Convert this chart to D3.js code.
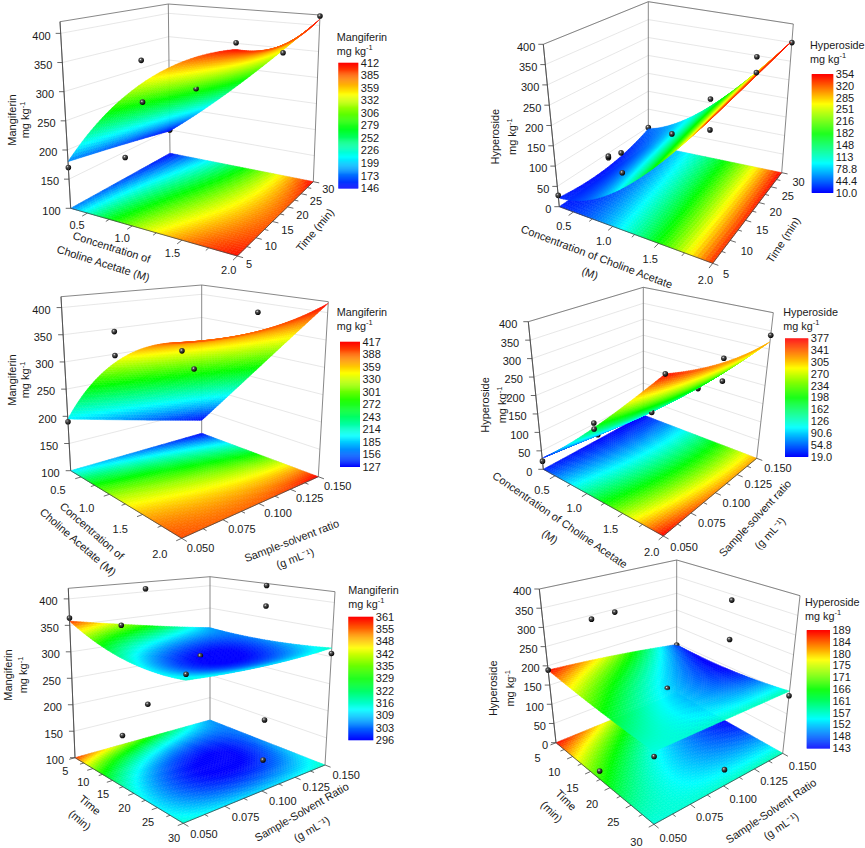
<!DOCTYPE html>
<html lang="en">
<head>
<meta charset="UTF-8">
<title>Response surfaces: Mangiferin and Hyperoside</title>
<script src="https://d3js.org/d3.v7.min.js"></script>
<style>
  body { margin: 0; background: #fff; }
  text { font-family: Arial, "Liberation Sans", sans-serif; fill: #1a1a1a; }
</style>
</head>
<body>
<script>
// ---- tick labels ----
var concTicks = [0.5, 1.0, 1.5, 2.0];
var timeTicks = [5, 10, 15, 20, 25, 30];
var ratioTicks = [0.050, 0.075, 0.100, 0.125, 0.150];
var mangZTicks = [100, 150, 200, 250, 300, 350, 400];
var hypZTicks = [0, 50, 100, 150, 200, 250, 300, 350, 400];

// ---- colour bar labels (top to bottom) ----
var legendA = ["412", "385", "359", "332", "306", "279", "252", "226", "199", "173", "146"];
var legendB = ["354", "320", "285", "251", "216", "182", "148", "113", "78.8", "44.4", "10.0"];
var legendC = ["417", "388", "359", "330", "301", "272", "243", "214", "185", "156", "127"];
var legendD = ["377", "341", "305", "270", "234", "198", "162", "126", "90.6", "54.8", "19.0"];
var legendE = ["361", "355", "348", "342", "335", "329", "322", "316", "309", "303", "296"];
var legendF = ["189", "184", "180", "175", "171", "166", "161", "157", "152", "148", "143"];

// ---- fitted surface read at low / centre / high level of both factors ----
// rows: y factor low, mid, high ; columns: x factor low, mid, high
var surfA = [[180, 335, 408], [165, 295, 388], [148, 265, 412]];   // conc x time
var surfB = [[22, 105, 338], [15, 125, 342], [45, 140, 354]];      // conc x time
var surfC = [[195, 330, 395], [160, 300, 390], [128, 265, 417]];   // conc x ratio
var surfD = [[30, 180, 377], [20, 145, 330], [19, 140, 320]];      // conc x ratio
var surfE = [[358, 318, 315], [330, 296, 310], [306, 305, 316]];   // time x ratio
var surfF = [[189, 168, 156], [172, 153, 157], [146, 143, 158]];   // time x ratio

// ---- experimental points [x, y, response] ----
var dotsA = [[0.3, 5, 170], [0.3, 17.5, 139], [1.15, 5, 305], [1.15, 5, 372], [0.3, 30, 150],
             [1.15, 17.5, 292], [2.0, 5, 418], [2.0, 17.5, 375], [2.0, 30, 418]];
var dotsB = [[0.3, 5, 28], [0.3, 17.5, 42], [0.3, 17.5, 38], [1.15, 5, 189], [1.15, 5, 141],
             [0.3, 30, 49], [1.15, 17.5, 143], [1.15, 30, 160], [2.0, 5, 315], [2.0, 17.5, 390],
             [2.0, 17.5, 350], [2.0, 30, 350]];
var dotsC = [[0.3, 0.05, 190], [1.15, 0.05, 382], [1.15, 0.05, 342], [2.0, 0.05, 383],
             [1.15, 0.10, 292], [1.15, 0.15, 380]];
var dotsD = [[0.3, 0.05, 22], [1.15, 0.05, 192], [1.15, 0.05, 177], [0.3, 0.10, 14],
             [1.15, 0.10, 140], [2.0, 0.05, 377], [1.15, 0.15, 136], [2.0, 0.10, 341],
             [2.0, 0.10, 283], [2.0, 0.15, 338]];
var dotsE = [[5, 0.05, 364], [17.5, 0.05, 374], [17.5, 0.05, 187], [5, 0.10, 406], [5, 0.10, 168],
             [17.5, 0.10, 297], [30, 0.05, 324], [17.5, 0.15, 416], [17.5, 0.15, 374],
             [30, 0.10, 219], [30, 0.10, 152], [30, 0.15, 306]];
var dotsF = [[5, 0.05, 189], [17.5, 0.05, 380], [5, 0.10, 292], [5, 0.15, 145], [17.5, 0.10, 153],
             [17.5, 0.15, 334], [17.5, 0.15, 225], [30, 0.15, 146], [30, 0.05, 145],
             [17.5, 0.05, 20], [30, 0.10, 38]];

var rainbow = ["#0000ff", "#00ffff", "#00ff00", "#ffff00", "#ff0000"];

// ---- panel layout (screen frame of each 3D box, label offsets) ----
var panels = [
  { frame: {L: [70.7, 208.3], B: [237.3, 256], R: [313.3, 181.7], K: [170, 153.3],
            TL: [60, 21.7], TK: [168.3, 4], TR: [320, 15]},
    xDomain: [0.3, 2.0], yDomain: [5, 30], zDomain: [100, 420],
    xTicks: concTicks, xFmt: ".1f", yTicks: timeTicks, yFmt: "d", zTicks: mangZTicks,
    xl: [12, 6], yl: [9, 6], zl: 10,
    grid: surfA, dots: dotsA, legend: legendA, name: "Mangiferin",
    leg: {x: 336.7, y: 40.5, bx: 338.3, by: 62.7, bw: 20, bh: 125.6},
    xTitle: [["Concentration of", 111.7, 247.3, 17.5], ["Choline Acetate (M)", 103.3, 263.3, 17.5]],
    yTitle: [["Time (min)", 315, 230, -50]],
    zTitle: [11.7, 25, 120] },
  { frame: {L: [559.3, 206.7], B: [712.7, 263.3], R: [781.7, 172.7], K: [648.3, 145],
            TL: [543.3, 44.3], TK: [648.3, 1.7], TR: [793.3, 24]},
    xDomain: [0.3, 2.0], yDomain: [5, 30], zDomain: [0, 400],
    xTicks: concTicks, xFmt: ".1f", yTicks: timeTicks, yFmt: "d", zTicks: hypZTicks,
    xl: [12, 7], yl: [11, 7], zl: 8,
    grid: surfB, dots: dotsB, legend: legendB, name: "Hyperoside",
    leg: {x: 810, y: 49, bx: 811.7, by: 74, bw: 21.6, bh: 118.7},
    xTitle: [["Concentration of Choline Acetate", 596.7, 256.7, 20.6], ["(M)", 590, 273.3, 20.6]],
    yTitle: [["Time (min)", 783.3, 240, -57]],
    zTitle: [495, 511.7, 136.7] },
  { frame: {L: [70.7, 470.7], B: [181.7, 538.3], R: [318.3, 476.7], K: [201.7, 433.3],
            TL: [61, 296.7], TK: [201.7, 285], TR: [328.3, 301.7]},
    xDomain: [0.3, 2.0], yDomain: [0.05, 0.15], zDomain: [100, 420],
    xTicks: concTicks, xFmt: ".1f", yTicks: ratioTicks, yFmt: ".3f", zTicks: mangZTicks,
    xl: [24, 6], yl: [6, 7], zl: 11,
    grid: surfC, dots: dotsC, legend: legendC, name: "Mangiferin",
    leg: {x: 336.7, y: 315.5, bx: 340, by: 341.7, bw: 20, bh: 125},
    xTitle: [["Concentration of", 92, 531, 41], ["Choline Acetate (M)", 78, 542, 41]],
    yTitle: [["Sample-solvent ratio", 291.7, 540.7, -21], ["(g mL\u207B\u00B9)", 295, 558.3, -21]],
    zTitle: [11.7, 25, 380] },
  { frame: {L: [543.3, 469.3], B: [663.3, 536], R: [756.7, 458.3], K: [643.3, 415],
            TL: [528.3, 321.7], TK: [643.3, 287.3], TR: [773.3, 312.7]},
    xDomain: [0.3, 2.0], yDomain: [0.05, 0.15], zDomain: [0, 400],
    xTicks: concTicks, xFmt: ".1f", yTicks: ratioTicks, yFmt: ".3f", zTicks: hypZTicks,
    xl: [15, 7], yl: [8, 7], zl: 11,
    grid: surfD, dots: dotsD, legend: legendD, name: "Hyperoside",
    leg: {x: 783.3, y: 316, bx: 785, by: 338.3, bw: 23.3, bh: 118.4},
    xTitle: [["Concentration of Choline Acetate", 560, 520, 34.6], ["(M)", 550, 536.7, 34.6]],
    yTitle: [["Sample-solvent ratio", 755, 518.3, -47], ["(g mL\u207B\u00B9)", 770, 533.3, -47]],
    zTitle: [485, 501.7, 405] },
  { frame: {L: [75, 757.7], B: [183.3, 823.3], R: [325, 765], K: [210, 720],
            TL: [68.3, 588.3], TK: [210, 576.7], TR: [335, 591.7]},
    xDomain: [5, 30], yDomain: [0.05, 0.15], zDomain: [100, 420],
    xTicks: timeTicks, xFmt: "d", yTicks: ratioTicks, yFmt: ".3f", zTicks: mangZTicks,
    xl: [10, 11], yl: [8, 7], zl: 11,
    grid: surfE, dots: dotsE, legend: legendE, name: "Mangiferin",
    leg: {x: 348.3, y: 594, bx: 348.3, by: 616.7, bw: 25, bh: 123.3},
    xTitle: [["Time", 90, 805, 40], ["(min)", 80, 820, 40]],
    yTitle: [["Sample-Solvent Ratio", 301.7, 812, -30], ["(g mL\u207B\u00B9)", 311.7, 829, -30]],
    zTitle: [8.3, 23.3, 675] },
  { frame: {L: [556, 742.7], B: [654, 824.3], R: [782.7, 753.3], K: [676.7, 693.3],
            TL: [539.3, 589], TK: [676.7, 560], TR: [800, 595.7]},
    xDomain: [5, 30], yDomain: [0.05, 0.15], zDomain: [0, 400],
    xTicks: timeTicks, xFmt: "d", yTicks: ratioTicks, yFmt: ".3f", zTicks: hypZTicks,
    xl: [20, 8], yl: [7, 9], zl: 8,
    grid: surfF, dots: dotsF, legend: legendF, name: "Hyperoside",
    leg: {x: 805, y: 605.5, bx: 806.7, by: 630, bw: 23.3, bh: 118.3},
    xTitle: [["Time", 566, 800, 45], ["(min)", 551.7, 811.7, 45]],
    yTitle: [["Sample-Solvent Ratio", 771, 811, -34], ["(g mL\u207B\u00B9)", 781, 826, -34]],
    zTitle: [493.3, 510, 688.3] }
];

var w = 865, h = 848;
var svg = d3.select("body").append("svg").attr("width", w).attr("height", h);

var ball = svg.append("defs").append("radialGradient").attr("id", "ball")
    .attr("cx", "38%").attr("cy", "35%").attr("r", "65%");
ball.append("stop").attr("offset", "0%").attr("stop-color", "#f0f0f0");
ball.append("stop").attr("offset", "30%").attr("stop-color", "#555");
ball.append("stop").attr("offset", "100%").attr("stop-color", "#000");

function solve3(m, r) {
  function det(a) {
    return a[0][0] * (a[1][1] * a[2][2] - a[1][2] * a[2][1])
         - a[0][1] * (a[1][0] * a[2][2] - a[1][2] * a[2][0])
         + a[0][2] * (a[1][0] * a[2][1] - a[1][1] * a[2][0]);
  }
  var d = det(m), out = [];
  for (var k = 0; k < 3; k++) {
    var c = m.map(function(row, i) { return row.map(function(v, j) { return j === k ? r[i] : v; }); });
    out.push(det(c) / d);
  }
  return out;
}

// floor: perspective map of the unit square onto the drawn floor
// height: vertical edges, inverse height blended across the floor (nearer = taller)
function makeProj(f) {
  var x0 = f.L[0], y0 = f.L[1], x1 = f.B[0], y1 = f.B[1], x2 = f.R[0], y2 = f.R[1], x3 = f.K[0], y3 = f.K[1];
  var sx = x0 - x1 + x2 - x3, sy = y0 - y1 + y2 - y3;
  var dx1 = x1 - x2, dx2 = x3 - x2, dy1 = y1 - y2, dy2 = y3 - y2;
  var den = dx1 * dy2 - dx2 * dy1;
  var g = (sx * dy2 - dx2 * sy) / den, hh = (dx1 * sy - sx * dy1) / den;
  var a = x1 - x0 + g * x1, b = x3 - x0 + hh * x3, c = x0;
  var d = y1 - y0 + g * y1, e = y3 - y0 + hh * y3, ff = y0;

  // camera depth term, only used to order the drawing
  var M = [[0, 0, 0], [0, 0, 0], [0, 0, 0]], r = [0, 0, 0];
  [[0, 0, f.TL], [0, 1, f.TK], [1, 1, f.TR]].forEach(function(t) {
    var u = t[0], v = t[1], X = t[2][0], Y = t[2][1], D0 = g * u + hh * v + 1;
    [[1, 0, -X, X * D0 - (a * u + b * v + c)], [0, 1, -Y, Y * D0 - (d * u + e * v + ff)]].forEach(function(q) {
      for (var i = 0; i < 3; i++) {
        for (var j = 0; j < 3; j++) M[i][j] += q[i] * q[j];
        r[i] += q[i] * q[3];
      }
    });
  });
  var C = solve3(M, r)[2];

  function edge(top, base) {
    var hgt = base[1] - top[1];
    return {inv: 1 / hgt, slope: (top[0] - base[0]) / hgt};
  }
  var eL = edge(f.TL, f.L), eK = edge(f.TK, f.K), eR = edge(f.TR, f.R);
  var eB = {inv: eL.inv + eR.inv - eK.inv, slope: eL.slope + eR.slope - eK.slope};
  return function(u, v, z) {
    var D = g * u + hh * v + 1;
    var k0 = (1 - u) * (1 - v), k1 = u * (1 - v), k2 = u * v, k3 = (1 - u) * v;
    var hgt = 1 / (eL.inv * k0 + eB.inv * k1 + eR.inv * k2 + eK.inv * k3);
    var sl = eL.slope * k0 + eB.slope * k1 + eR.slope * k2 + eK.slope * k3;
    return [(a * u + b * v + c) / D + z * hgt * sl, (d * u + e * v + ff) / D - z * hgt, D + C * z];
  };
}

// quadratic through low / centre / high
function lag(t) { return [2 * (t - 0.5) * (t - 1), -4 * t * (t - 1), 2 * t * (t - 0.5)]; }
function surfAt(grid, u, v) {
  var a = lag(u), b = lag(v), s = 0;
  for (var j = 0; j < 3; j++) for (var i = 0; i < 3; i++) s += grid[j][i] * a[i] * b[j];
  return s;
}

function pathOf(pts, close) {
  return "M" + pts.map(function(q) { return q[0].toFixed(2) + "," + q[1].toFixed(2); }).join("L") + (close ? "Z" : "");
}
function unit(p, q) {
  var dx = q[0] - p[0], dy = q[1] - p[1], n = Math.sqrt(dx * dx + dy * dy);
  return [dx / n, dy / n];
}
function minors(ticks, dom) {
  var step = ticks[1] - ticks[0], out = [];
  for (var t = ticks[0] - step / 2; t <= dom[1] + 1e-9; t += step) if (t >= dom[0] - 1e-9) out.push(t);
  return out;
}

function drawPanel(p) {
  var P = makeProj(p.frame);
  var xs = d3.scaleLinear().domain(p.xDomain).range([0, 1]);
  var ys = d3.scaleLinear().domain(p.yDomain).range([0, 1]);
  var zs = d3.scaleLinear().domain(p.zDomain).range([0, 1]);
  var lo = +p.legend[p.legend.length - 1], hi = +p.legend[0];
  var color = d3.scaleLinear()
      .domain([0, 0.25, 0.5, 0.75, 1].map(function(t) { return lo + t * (hi - lo); }))
      .range(rainbow).clamp(true);
  var g = svg.append("g");

  // back walls with grid lines
  p.zTicks.forEach(function(t) {
    var z = zs(t);
    g.append("path").attr("d", pathOf([P(0, 0, z), P(0, 1, z), P(1, 1, z)]))
      .attr("fill", "none").attr("stroke", "#dcdcdc").attr("stroke-width", 0.7);
  });
  [[P(0, 0, 0), P(0, 0, 1)], [P(0, 1, 0), P(0, 1, 1)], [P(1, 1, 0), P(1, 1, 1)],
   [P(0, 0, 1), P(0, 1, 1), P(1, 1, 1)]].forEach(function(seg) {
    g.append("path").attr("d", pathOf(seg)).attr("fill", "none")
      .attr("stroke", "#6a6a6a").attr("stroke-width", 0.8);
  });

  // surface nodes
  var N = 48, nodes = [];
  for (var j = 0; j <= N; j++) {
    nodes.push([]);
    for (var i = 0; i <= N; i++) nodes[j].push(surfAt(p.grid, i / N, j / N));
  }

  // projected contour map on the floor
  var floorCells = [];
  for (j = 0; j < N; j++) for (i = 0; i < N; i++) {
    var zc = (nodes[j][i] + nodes[j][i + 1] + nodes[j + 1][i] + nodes[j + 1][i + 1]) / 4;
    floorCells.push({d: pathOf([P(i / N, j / N, 0), P((i + 1) / N, j / N, 0),
                                P((i + 1) / N, (j + 1) / N, 0), P(i / N, (j + 1) / N, 0)], true),
                     c: color(zc)});
  }
  g.append("g").selectAll("path").data(floorCells).enter().append("path")
    .attr("d", function(d) { return d.d; })
    .attr("fill", function(d) { return d.c; })
    .attr("stroke", function(d) { return d.c; }).attr("stroke-width", 0.5);

  // front floor axes
  g.append("path").attr("d", pathOf([P(0, 0, 0), P(1, 0, 0), P(1, 1, 0)]))
    .attr("fill", "none").attr("stroke", "#444").attr("stroke-width", 0.8);

  var xf = d3.format(p.xFmt), yf = d3.format(p.yFmt);
  minors(p.xTicks, p.xDomain).concat(p.xTicks).forEach(function(t) {
    var major = p.xTicks.indexOf(t) >= 0, u = xs(t);
    var a = P(u, 0, 0), dir = unit(a, P(u, -0.05, 0)), len = major ? 6 : 4;
    g.append("line").attr("x1", a[0]).attr("y1", a[1])
      .attr("x2", a[0] + dir[0] * len).attr("y2", a[1] + dir[1] * len)
      .attr("stroke", "#444").attr("stroke-width", 0.8);
    if (major) g.append("text").attr("x", a[0] + dir[0] * p.xl[0]).attr("y", a[1] + dir[1] * p.xl[0] + p.xl[1])
      .attr("text-anchor", "middle").attr("dy", "0.35em").attr("font-size", 11).text(xf(t));
  });
  minors(p.yTicks, p.yDomain).concat(p.yTicks).forEach(function(t) {
    var major = p.yTicks.indexOf(t) >= 0, v = ys(t);
    var a = P(1, v, 0), dir = unit(a, P(1.05, v, 0)), len = major ? 6 : 4;
    g.append("line").attr("x1", a[0]).attr("y1", a[1])
      .attr("x2", a[0] + dir[0] * len).attr("y2", a[1] + dir[1] * len)
      .attr("stroke", "#444").attr("stroke-width", 0.8);
    if (major) g.append("text").attr("x", a[0] + dir[0] * p.yl[0]).attr("y", a[1] + dir[1] * p.yl[0] + p.yl[1])
      .attr("text-anchor", "start").attr("dy", "0.35em").attr("font-size", 11).text(yf(t));
  });

  // surface and points, far to near
  var items = [];
  for (j = 0; j < N; j++) for (i = 0; i < N; i++) {
    var c4 = [[i, j], [i + 1, j], [i + 1, j + 1], [i, j + 1]].map(function(q) {
      return P(q[0] / N, q[1] / N, zs(nodes[q[1]][q[0]]));
    });
    var zm = (nodes[j][i] + nodes[j][i + 1] + nodes[j + 1][i] + nodes[j + 1][i + 1]) / 4;
    items.push({depth: d3.mean(c4, function(q) { return q[2]; }), d: pathOf(c4, true), c: color(zm), dot: false});
  }
  p.dots.forEach(function(pt) {
    var q = P(xs(pt[0]), ys(pt[1]), zs(pt[2])), r = 2.8;
    items.push({depth: q[2] - 0.004, dot: true,
      d: "M" + (q[0] - r) + "," + q[1] + "a" + r + "," + r + " 0 1,0 " + 2 * r + ",0a" + r + "," + r + " 0 1,0 " + (-2 * r) + ",0"});
  });
  items.sort(function(a, b) { return b.depth - a.depth; });
  g.append("g").selectAll("path").data(items).enter().append("path")
    .attr("d", function(d) { return d.d; })
    .attr("fill", function(d) { return d.dot ? "url(#ball)" : d.c; })
    .attr("stroke", function(d) { return d.dot ? "none" : d.c; })
    .attr("stroke-width", 0.5);

  // vertical axis
  g.append("path").attr("d", pathOf([P(0, 0, 0), P(0, 0, 1)])).attr("fill", "none")
    .attr("stroke", "#444").attr("stroke-width", 0.8);
  p.zTicks.forEach(function(t) {
    var a = P(0, 0, zs(t));
    g.append("line").attr("x1", a[0] - 5).attr("y1", a[1]).attr("x2", a[0]).attr("y2", a[1])
      .attr("stroke", "#444").attr("stroke-width", 0.8);
    g.append("text").attr("x", a[0] - p.zl).attr("y", a[1] + 2.5).attr("dy", "0.35em")
      .attr("text-anchor", "end").attr("font-size", 11).text(t);
  });

  // axis titles
  p.xTitle.concat(p.yTitle).forEach(function(t) {
    g.append("text").attr("transform", "translate(" + t[1] + "," + t[2] + ") rotate(" + t[3] + ")")
      .attr("text-anchor", "middle").attr("dy", "0.35em").attr("font-size", 11).text(t[0]);
  });
  var zt = g.append("g").attr("font-size", 11);
  zt.append("text").attr("transform", "translate(" + p.zTitle[0] + "," + p.zTitle[2] + ") rotate(-90)")
    .attr("text-anchor", "middle").attr("dy", "0.35em").text(p.name);
  var unitT = zt.append("text").attr("transform", "translate(" + p.zTitle[1] + "," + p.zTitle[2] + ") rotate(-90)")
    .attr("text-anchor", "middle").attr("dy", "0.35em");
  unitT.append("tspan").text("mg kg");
  unitT.append("tspan").attr("dy", "-4").attr("font-size", 7.5).text("-1");

  // colour legend
  var L = p.leg;
  g.append("text").attr("x", L.x).attr("y", L.y).attr("font-size", 10.8).text(p.name);
  var lu = g.append("text").attr("x", L.x).attr("y", L.y + 14).attr("font-size", 10.8);
  lu.append("tspan").text("mg kg");
  lu.append("tspan").attr("dy", "-5").attr("font-size", 7.5).text("-1");
  var steps = d3.range(120);
  var by = d3.scaleLinear().domain([0, steps.length]).range([L.by + L.bh, L.by]);
  g.append("g").selectAll("rect").data(steps).enter().append("rect")
    .attr("x", L.bx).attr("width", L.bw)
    .attr("y", function(k) { return by(k + 1); })
    .attr("height", by(0) - by(1) + 0.3)
    .attr("fill", function(k) { return color(lo + (k + 0.5) / steps.length * (hi - lo)); });
  var ly = d3.scaleLinear().domain([0, p.legend.length - 1]).range([L.by, L.by + L.bh]);
  g.append("g").selectAll("text").data(p.legend).enter().append("text")
    .attr("x", L.bx + L.bw + 2.5).attr("y", function(d, k) { return ly(k); })
    .attr("dy", "0.35em").attr("font-size", 11).text(function(d) { return d; });
}

panels.forEach(drawPanel);
</script>
</body>
</html>
